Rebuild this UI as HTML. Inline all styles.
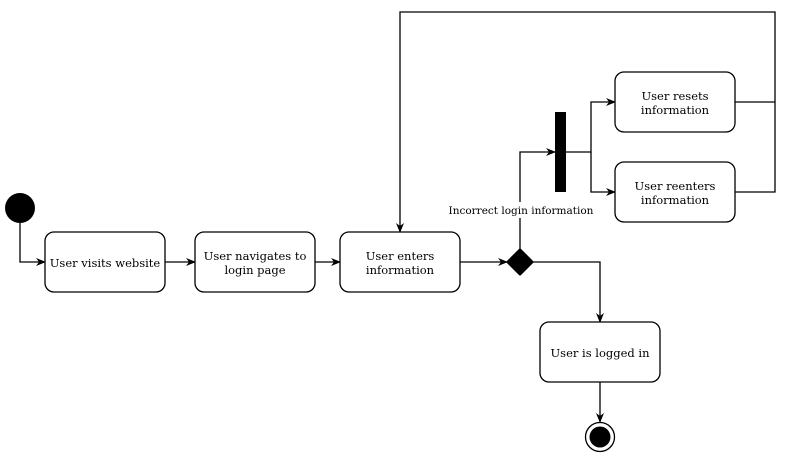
<!DOCTYPE html>
<html><head><style>body{margin:0;background:#fff}svg text{font-family:"DejaVu Serif","Liberation Serif",serif;font-size:11.5px;fill:#000}</style></head>
<body>
<svg width="789" height="458" viewBox="0 0 789 458" xmlns="http://www.w3.org/2000/svg">
<defs><marker id="a" markerWidth="10" markerHeight="8" refX="9" refY="4" orient="auto" markerUnits="userSpaceOnUse"><path d="M0,0 L10,4 L0,8 L3,4 Z" fill="#000"/></marker></defs>
<g fill="none" stroke="#000" stroke-width="1.3">
<path d="M20,223 V262 H45" marker-end="url(#a)"/>
<path d="M165,262 H195" marker-end="url(#a)"/>
<path d="M315,262 H340" marker-end="url(#a)"/>
<path d="M460,262 H507" marker-end="url(#a)"/>
<path d="M520,249 V152 H555" marker-end="url(#a)"/>
<path d="M566,152 H591 V102 H615" marker-end="url(#a)"/>
<path d="M591,152 V192 H615" marker-end="url(#a)"/>
<path d="M735,102 H775 M735,192 H775 V12 H400 V232" marker-end="url(#a)"/>
<path d="M533,262 H600 V322" marker-end="url(#a)"/>
<path d="M600,382 V422" marker-end="url(#a)"/>
<rect x="45" y="232" width="120" height="60" rx="9" fill="#fff"/>
<rect x="195" y="232" width="120" height="60" rx="9" fill="#fff"/>
<rect x="340" y="232" width="120" height="60" rx="9" fill="#fff"/>
<rect x="615" y="72" width="120" height="60" rx="9" fill="#fff"/>
<rect x="615" y="162" width="120" height="60" rx="9" fill="#fff"/>
<rect x="540" y="322" width="120" height="60" rx="9" fill="#fff"/>
<circle cx="600" cy="437" r="14.5" fill="#fff"/>
</g>
<circle cx="20" cy="208" r="15"/>
<circle cx="600" cy="437" r="10.5"/>
<path d="M520,250 L532,262 L520,274 L508,262 Z" fill="#000" stroke="#000" stroke-linejoin="round" stroke-width="3"/>
<rect x="555" y="112" width="11" height="80" fill="#000"/>
<rect x="448" y="202" width="146" height="16" fill="#fff"/>
<g text-anchor="middle">
<text x="105" y="267">User visits website</text>
<text x="255" y="260">User navigates to</text><text x="255" y="274">login page</text>
<text x="400" y="260">User enters</text><text x="400" y="274">information</text>
<text x="675" y="100">User resets</text><text x="675" y="114">information</text>
<text x="675" y="190">User reenters</text><text x="675" y="204">information</text>
<text x="600" y="357">User is logged in</text>
<text x="521" y="214" style="font-size:10.5px">Incorrect login information</text>
</g>
</svg>
</body></html>
